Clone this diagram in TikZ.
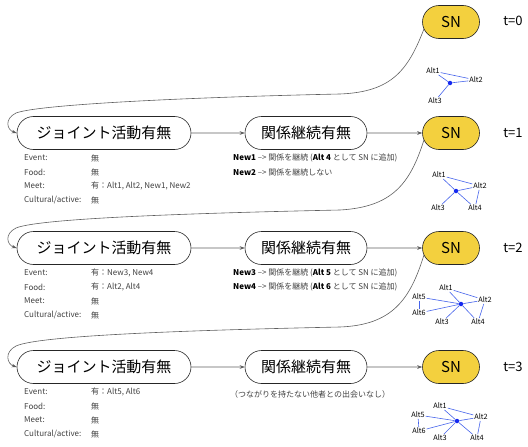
\documentclass[tikz,border=0pt]{standalone}
\usepackage{fontspec}
\setmainfont{Noto Sans CJK JP}
\usetikzlibrary{shapes.misc,arrows.meta}

\definecolor{snyellow}{RGB}{243,208,62}
\definecolor{netblue}{RGB}{70,100,235}
\definecolor{dotblue}{RGB}{20,40,240}
\definecolor{flowgray}{RGB}{95,95,95}

\tikzset{
  pill/.style={rounded rectangle, draw=black!85, line width=0.6pt, minimum height=33pt, inner sep=0pt},
  actbox/.style={pill, minimum width=174pt, font=\fontsize{15}{15}\selectfont},
  relbox/.style={pill, minimum width=122pt, font=\fontsize{15}{15}\selectfont},
  snbox/.style={pill, fill=snyellow, minimum width=57pt, font=\fontsize{15}{15}\selectfont},
  tlabel/.style={font=\fontsize{13}{13}\selectfont},
  info/.style={anchor=west, inner sep=0pt, font=\fontsize{8}{9}\selectfont, text=black!75},
  flow/.style={draw=flowgray, line width=0.6pt, -{Stealth[length=5pt,width=3.6pt,fill=black!85]}},
  alt/.style={inner sep=0.8pt, font=\fontsize{7.3}{8}\selectfont},
  tie/.style={draw=netblue, line width=0.6pt},
  ego/.style={circle, fill=dotblue, inner sep=0pt, minimum size=4.5pt},
}

\begin{document}
\begin{tikzpicture}[x=1pt,y=-1pt]
\useasboundingbox (0,0) rectangle (528,447);

% ---- t = 0 ----
\node[snbox] (s0) at (451,22) {SN};
\node[tlabel] (t0) at (513,21) {t=0};
\node[ego] (c0) at (450,83) {};
\node[alt] (n0a1) at (433,71) {Alt1};
\node[alt] (n0a2) at (476,80) {Alt2};
\node[alt] (n0a3) at (435,101) {Alt3};
\draw[tie] (c0) -- (n0a1);
\draw[tie] (c0) -- (n0a2);
\draw[tie] (c0) -- (n0a3);
\draw[tie] (n0a1) -- (n0a2);

% ---- t = 1 ----
\node[actbox] (a1) at (104,133) {ジョイント活動有無};
\node[relbox] (b1) at (306,133) {関係継続有無};
\node[snbox] (s1) at (451,133) {SN};
\node[tlabel] (t1) at (513,133) {t=1};
\draw[flow] (a1) -- (b1);
\draw[flow] (b1) -- (s1);
\draw[flow] (s0.195) .. controls (408,70) and (392,92) .. (340,94)
  .. controls (200,97) and (40,104) .. (16,113)
  .. controls (4,119) and (7,130) .. (a1.west);

\node[info] (l1e) at (24,158) {Event:};
\node[info] (l1f) at (24,172) {Food:};
\node[info] (l1m) at (24,186) {Meet:};
\node[info] (l1c) at (24,200) {Cultural/active:};
\node[info] (v1e) at (91,158) {無};
\node[info] (v1f) at (91,172) {無};
\node[info] (v1m) at (91,186) {有：Alt1, Alt2, New1, New2};
\node[info] (v1c) at (91,200) {無};
\node[info] (r1a) at (233,158) {\textcolor{black}{\textbf{New1}} --> 関係を継続 (\textcolor{black}{\textbf{Alt 4}} として SN に追加)};
\node[info] (r1b) at (233,172) {\textcolor{black}{\textbf{New2}} --> 関係を継続しない};

\node[ego] (c1) at (456,191) {};
\node[alt] (n1a1) at (439,175) {Alt1};
\node[alt] (n1a2) at (480,186) {Alt2};
\node[alt] (n1a3) at (438,208) {Alt3};
\node[alt] (n1a4) at (475,208) {Alt4};
\draw[tie] (c1) -- (n1a1);
\draw[tie] (c1) -- (n1a2);
\draw[tie] (c1) -- (n1a3);
\draw[tie] (c1) -- (n1a4);
\draw[tie] (n1a1) -- (n1a2);
\draw[tie] (n1a2) -- (n1a4);

% ---- t = 2 ----
\node[actbox] (a2) at (104,248) {ジョイント活動有無};
\node[relbox] (b2) at (306,248) {関係継続有無};
\node[snbox] (s2) at (451,248) {SN};
\node[tlabel] (t2) at (513,248) {t=2};
\draw[flow] (a2) -- (b2);
\draw[flow] (b2) -- (s2);
\draw[flow] (s1.195) .. controls (410,184) and (392,207) .. (340,210)
  .. controls (200,213) and (40,218) .. (16,228)
  .. controls (4,234) and (7,245) .. (a2.west);

\node[info] (l2e) at (24,273) {Event:};
\node[info] (l2f) at (24,287) {Food:};
\node[info] (l2m) at (24,301) {Meet:};
\node[info] (l2c) at (24,315) {Cultural/active:};
\node[info] (v2e) at (91,273) {有：New3, New4};
\node[info] (v2f) at (91,287) {有：Alt2, Alt4};
\node[info] (v2m) at (91,301) {無};
\node[info] (v2c) at (91,315) {無};
\node[info] (r2a) at (233,273) {\textcolor{black}{\textbf{New3}} --> 関係を継続 (\textcolor{black}{\textbf{Alt 5}} として SN に追加)};
\node[info] (r2b) at (233,287) {\textcolor{black}{\textbf{New4}} --> 関係を継続 (\textcolor{black}{\textbf{Alt 6}} として SN に追加)};

\node[ego] (c2) at (461,304) {};
\node[alt] (n2a1) at (446,288) {Alt1};
\node[alt] (n2a2) at (485,300) {Alt2};
\node[alt] (n2a3) at (442,322) {Alt3};
\node[alt] (n2a4) at (478,322) {Alt4};
\node[alt] (n2a5) at (419,297) {Alt5};
\node[alt] (n2a6) at (419,313) {Alt6};
\draw[tie] (c2) -- (n2a1);
\draw[tie] (c2) -- (n2a2);
\draw[tie] (c2) -- (n2a3);
\draw[tie] (c2) -- (n2a4);
\draw[tie] (c2) -- (n2a5);
\draw[tie] (c2) -- (n2a6);
\draw[tie] (n2a1) -- (n2a2);
\draw[tie] (n2a2) -- (n2a4);
\draw[tie] (n2a5) -- (n2a6);

% ---- t = 3 ----
\node[actbox] (a3) at (104,367) {ジョイント活動有無};
\node[relbox] (b3) at (306,367) {関係継続有無};
\node[snbox] (s3) at (451,367) {SN};
\node[tlabel] (t3) at (513,367) {t=3};
\draw[flow] (a3) -- (b3);
\draw[flow] (b3) -- (s3);
\draw[flow] (s2.195) .. controls (410,300) and (392,325) .. (340,327)
  .. controls (200,330) and (40,335) .. (16,346)
  .. controls (4,352) and (7,364) .. (a3.west);

\node[info] (l3e) at (24,392) {Event:};
\node[info] (l3f) at (24,406) {Food:};
\node[info] (l3m) at (24,420) {Meet:};
\node[info] (l3c) at (24,434) {Cultural/active:};
\node[info] (v3e) at (91,392) {有：Alt5, Alt6};
\node[info] (v3f) at (91,406) {無};
\node[info] (v3m) at (91,420) {無};
\node[info] (v3c) at (91,434) {無};
\node[info] (r3a) at (230,394) {（つながりを持たない他者との出会いなし）};

\node[ego] (c3) at (457,421) {};
\node[alt] (n3a1) at (440,406) {Alt1};
\node[alt] (n3a2) at (481,417) {Alt2};
\node[alt] (n3a3) at (440,438) {Alt3};
\node[alt] (n3a4) at (477,438) {Alt4};
\node[alt] (n3a5) at (418,415) {Alt5};
\node[alt] (n3a6) at (419,431) {Alt6};
\draw[tie] (c3) -- (n3a1);
\draw[tie] (c3) -- (n3a2);
\draw[tie] (c3) -- (n3a3);
\draw[tie] (c3) -- (n3a4);
\draw[tie] (c3) -- (n3a5);
\draw[tie] (c3) -- (n3a6);
\draw[tie] (n3a1) -- (n3a2);
\draw[tie] (n3a2) -- (n3a4);
\draw[tie] (n3a5) -- (n3a6);
\end{tikzpicture}
\end{document}
